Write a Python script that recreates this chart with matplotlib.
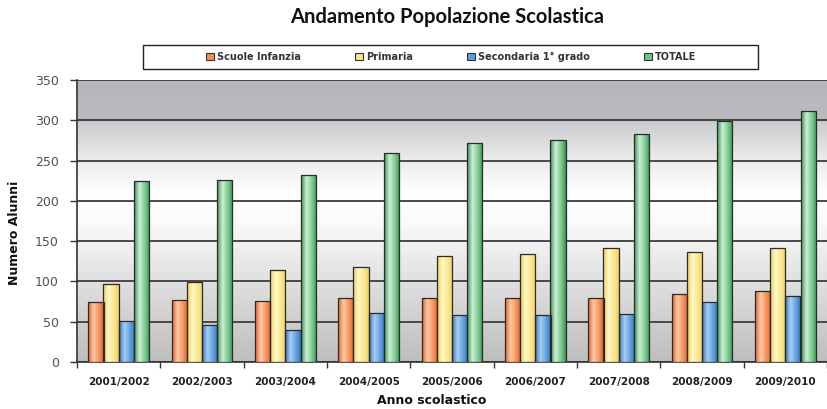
#!/usr/bin/env python3

import numpy as np
import matplotlib
matplotlib.use("Agg")
import matplotlib.pyplot as plt
from matplotlib.colors import LinearSegmentedColormap
from matplotlib.patches import Patch, Rectangle

anni = ["2001/2002", "2002/2003", "2003/2004", "2004/2005", "2005/2006",
        "2006/2007", "2007/2008", "2008/2009", "2009/2010"]
infanzia = [75, 77, 76, 79, 79, 80, 80, 84, 88]
primaria = [97, 99, 114, 118, 131, 134, 141, 137, 141]
secondaria = [51, 46, 40, 61, 58, 58, 60, 74, 82]
totale = [225, 226, 232, 260, 272, 275, 283, 299, 311]

serie = ["Scuole Infanzia", "Primaria", "Secondaria 1° grado", "TOTALE"]
# edge, light, base colours for the cylinder-like shading
shades = [
    ("#e2612a", "#fdcaa6", "#f58d55"),
    ("#eccf5c", "#fff8c4", "#f9e48a"),
    ("#3a74c2", "#a6cff3", "#5c9bdc"),
    ("#3a9450", "#cdeed5", "#72c486"),
]

W, H = 827, 409
fig = plt.figure(figsize=(W / 100, H / 100), dpi=100)
ax = fig.add_axes([77 / W, 1 - 362 / H, 750 / W, 282 / H])

# background gradient of the plot area
bg = LinearSegmentedColormap.from_list("bg", [
    (0.0, "#bdbdbd"), (0.25, "#dcdcdc"), (0.5, "#fbfbfb"), (0.6, "#ffffff"),
    (0.72, "#ebebeb"), (0.85, "#cbccce"), (0.86, "#b9bbbe"), (1.0, "#b4b6b9")])
ax.imshow(np.linspace(0, 1, 256).reshape(-1, 1), cmap=bg, origin="lower",
          extent=(0, 1, 0, 1), transform=ax.transAxes, aspect="auto", zorder=0)

x = np.arange(len(anni))
w = 0.182
for k, vals in enumerate([infanzia, primaria, secondaria, totale]):
    edge, light, base = shades[k]
    cmap = LinearSegmentedColormap.from_list(f"s{k}", [
        (0.0, edge), (0.35, light), (0.75, base), (1.0, edge)])
    bars = ax.bar(x + (k - 1.5) * w, vals, w, color=base,
                  edgecolor="#2b2b2b", linewidth=0.9, zorder=3)
    for b in bars:
        x0, y0 = b.get_x(), b.get_y()
        im = ax.imshow(np.linspace(0, 1, 64).reshape(1, -1), cmap=cmap,
                       extent=(x0, x0 + b.get_width(), y0, y0 + b.get_height()),
                       aspect="auto", zorder=3.5)
        im.set_clip_path(b)
        b.set_facecolor("none")
        b.set_zorder(4)

ax.set_xlim(-0.5, len(anni) - 0.5)
ax.set_ylim(0, 350)
ax.set_yticks(np.arange(0, 351, 50))
ax.yaxis.grid(True, color="#3c3c3c", linewidth=1.3, zorder=1)
ax.set_axisbelow(True)

ax.set_xticks(x)
ax.set_xticklabels(anni, fontsize=7.5, fontweight="bold", color="#222222")
ax.set_xticks(np.arange(-0.5, len(anni)), minor=True)
ax.tick_params(axis="x", which="major", length=0, pad=11)
ax.tick_params(axis="x", which="minor", length=4, width=1, color="#333333")
ax.tick_params(axis="y", length=5, width=1, color="#333333",
               labelsize=9, labelcolor="#505050", pad=8)

for s in ["top", "right"]:
    ax.spines[s].set_visible(False)
for s in ["left", "bottom"]:
    ax.spines[s].set_color("#333333")
    ax.spines[s].set_linewidth(1.2)

fig.text(447 / W, 1 - 17 / H, "Andamento Popolazione Scolastica",
         ha="center", va="center", fontsize=14.5, fontweight="bold",
         family="Lato", color="#111111")
fig.text(432 / W, 1 - 400 / H, "Anno scolastico", ha="center", va="center",
         fontsize=9, fontweight="bold", color="#111111")
fig.text(15 / W, 1 - 233 / H, "Numero Alunni", ha="center", va="center",
         rotation=90, fontsize=9, fontweight="bold", color="#111111")

# legend box drawn separately, legend entries centred inside it
fig.patches.append(Rectangle((143 / W, 1 - 69 / H), 615 / W, 24 / H,
                             transform=fig.transFigure, facecolor="white",
                             edgecolor="#222222", linewidth=1.0, zorder=1))
handles = [Patch(facecolor=shades[k][2], edgecolor="#333333", linewidth=0.8)
           for k in range(4)]
leg = fig.legend(handles, serie, ncol=4, loc="center",
                 bbox_to_anchor=(451 / W, 1 - 57 / H), frameon=False,
                 prop={"size": 7, "weight": "bold"}, handlelength=0.8,
                 handleheight=0.8, handletextpad=0.3, columnspacing=5.6,
                 borderaxespad=0)
for t in leg.get_texts():
    t.set_color("#333333")

fig.savefig("out.png", dpi=100)
